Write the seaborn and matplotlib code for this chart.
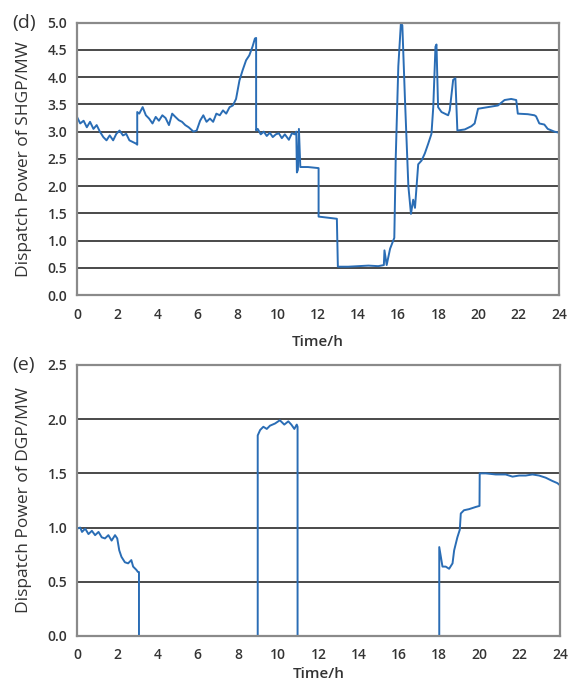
import matplotlib
matplotlib.use("Agg")
import matplotlib.pyplot as plt
import seaborn as sns
import pandas as pd

# ---- data: SHGP dispatch power (panel d) ----
shgp_t = [0.0, 0.16, 0.33, 0.49, 0.65, 0.82, 0.98, 1.14, 1.31, 1.47, 1.63, 1.80, 1.96, 2.12,
          2.29, 2.45, 2.61, 2.78, 2.94, 3.0, 3.0, 3.1, 3.27, 3.43, 3.59, 3.76, 3.92, 4.08, 4.25,
          4.41, 4.58, 4.74, 4.90, 5.07, 5.23, 5.39, 5.56, 5.80, 5.96, 6.13, 6.29, 6.45, 6.62,
          6.78, 6.94, 7.11, 7.27, 7.43, 7.60, 7.76, 7.92, 8.09, 8.25, 8.42, 8.58, 8.74, 8.86,
          8.92, 8.92, 9.0, 9.15, 9.3, 9.45, 9.6, 9.75, 9.9, 10.05, 10.2, 10.35, 10.55, 10.7,
          10.85, 10.92, 10.95, 11.0, 11.05, 11.12, 11.5, 12.03, 12.03, 12.5, 12.94, 12.99,
          13.5, 14.0, 14.51, 15.0, 15.28, 15.31, 15.42, 15.59, 15.75, 15.80, 15.87, 16.0,
          16.13, 16.2, 16.33, 16.5, 16.63, 16.74, 16.83, 16.91, 16.99, 17.16, 17.32, 17.49,
          17.65, 17.74, 17.85, 17.9, 17.98, 18.15, 18.31, 18.48, 18.56, 18.73, 18.84, 18.94,
          19.31, 19.64, 19.8, 19.97, 20.46, 20.96, 21.29, 21.62, 21.87, 21.95, 22.45, 22.78,
          22.86, 23.02, 23.27, 23.44, 23.77, 24.0]
shgp_v = [3.27, 3.15, 3.20, 3.08, 3.18, 3.05, 3.12, 3.00, 2.90, 2.84, 2.93, 2.84, 2.96, 3.02,
          2.93, 2.96, 2.84, 2.81, 2.78, 2.76, 3.36, 3.33, 3.45, 3.30, 3.24, 3.15, 3.27, 3.20,
          3.30, 3.25, 3.12, 3.33, 3.27, 3.21, 3.18, 3.12, 3.08, 3.00, 3.02, 3.20, 3.30, 3.18,
          3.24, 3.18, 3.33, 3.30, 3.39, 3.33, 3.45, 3.48, 3.60, 3.94, 4.13, 4.31, 4.40, 4.56,
          4.71, 4.72, 3.02, 3.05, 2.95, 3.00, 2.92, 2.98, 2.90, 2.95, 2.97, 2.88, 2.95, 2.85,
          2.97, 2.95, 3.00, 2.25, 2.30, 3.05, 2.35, 2.35, 2.33, 1.44, 1.42, 1.40, 0.52,
          0.52, 0.53, 0.54, 0.53, 0.55, 0.82, 0.55, 0.85, 1.00, 1.05, 2.50, 4.20,
          5.00, 4.95, 3.60, 2.00, 1.49, 1.75, 1.60, 2.00, 2.40, 2.47, 2.60, 2.78,
          2.96, 3.45, 4.56, 4.60, 3.45, 3.36, 3.33, 3.30, 3.39, 3.95, 3.98, 3.02,
          3.04, 3.10, 3.15, 3.42, 3.45, 3.48, 3.58, 3.60, 3.58, 3.33, 3.32, 3.30,
          3.28, 3.15, 3.13, 3.05, 3.00, 2.98]

# ---- data: DGP dispatch power (panel e) ----
dgp_t = [0.0, 0.16, 0.25, 0.41, 0.57, 0.74, 0.90, 1.07, 1.23, 1.39, 1.56, 1.72, 1.89, 2.00,
         2.10, 2.21, 2.38, 2.54, 2.70, 2.79, 2.95, 3.03, 3.08, 3.08, 8.98, 8.98, 9.10, 9.26,
         9.43, 9.59, 9.84, 10.08, 10.30, 10.50, 10.65, 10.80, 10.92, 10.96, 10.96, 18.0,
         18.0, 18.16, 18.32, 18.49, 18.66, 18.74, 18.90, 19.02, 19.07, 19.23, 19.48, 19.81,
         20.0, 20.01, 20.31, 20.81, 21.30, 21.64, 21.97, 22.30, 22.63, 22.96, 23.29, 23.62,
         23.87, 24.0]
dgp_v = [0.99, 1.00, 0.96, 0.99, 0.94, 0.97, 0.93, 0.96, 0.91, 0.90, 0.93, 0.88, 0.93, 0.90,
         0.79, 0.73, 0.68, 0.67, 0.70, 0.64, 0.61, 0.59, 0.59, 0.0, 0.0, 1.85, 1.90, 1.93,
         1.91, 1.94, 1.96, 1.99, 1.95, 1.98, 1.95, 1.91, 1.95, 1.93, 0.0, 0.0,
         0.82, 0.64, 0.64, 0.62, 0.67, 0.79, 0.91, 0.98, 1.13, 1.16, 1.17, 1.19,
         1.20, 1.50, 1.50, 1.49, 1.49, 1.47, 1.48, 1.48, 1.49, 1.48, 1.46, 1.43,
         1.41, 1.39]

x_ticks = list(range(0, 25, 2))
y_ticks_d = [0.0, 0.5, 1.0, 1.5, 2.0, 2.5, 3.0, 3.5, 4.0, 4.5, 5.0]
y_ticks_e = [0.0, 0.5, 1.0, 1.5, 2.0, 2.5]

sns.set_theme(style="white")
plt.rcParams['font.family'] = ['Open Sans', 'DejaVu Sans']

line_color = "#2a6db5"
grid_color = "#4a4a4a"
spine_color = "#8a8a8a"
text_color = "#333333"

fig = plt.figure(figsize=(5.69, 6.94), dpi=100)
ax1 = fig.add_axes([0.1353, 0.5749, 0.8471, 0.3924])
ax2 = fig.add_axes([0.1353, 0.0836, 0.8489, 0.3905])

df_d = pd.DataFrame({"t": shgp_t, "v": shgp_v})
df_e = pd.DataFrame({"t": dgp_t, "v": dgp_v})

sns.lineplot(data=df_d, x="t", y="v", ax=ax1, sort=False, estimator=None,
             color=line_color, linewidth=1.4)
sns.lineplot(data=df_e, x="t", y="v", ax=ax2, sort=False, estimator=None,
             color=line_color, linewidth=1.4)

for ax, yt, ymax, ylabel, tag, xpad in [
        (ax1, y_ticks_d, 5.0, "Dispatch Power of SHGP/MW", "(d)", 10),
        (ax2, y_ticks_e, 2.5, "Dispatch Power of DGP/MW", "(e)", 3)]:
    ax.set_xlim(0, 24)
    ax.set_ylim(0, ymax)
    ax.set_xticks(x_ticks)
    ax.set_xticklabels([str(v) for v in x_ticks])
    ax.set_yticks(yt)
    ax.set_yticklabels([f"{v:.1f}" for v in yt])
    ax.yaxis.grid(True, color=grid_color, linewidth=1.4)
    ax.xaxis.grid(False)
    ax.set_axisbelow(True)
    for s in ax.spines.values():
        s.set_color(spine_color)
        s.set_linewidth(1.6)
    ax.tick_params(axis="x", direction="out", length=4, width=1, color=spine_color,
                   labelsize=10, labelcolor=text_color, pad=5)
    ax.tick_params(axis="y", direction="out", length=4, width=1, color=spine_color,
                   labelsize=10, labelcolor=text_color, pad=3)
    for lbl in ax.get_xticklabels() + ax.get_yticklabels():
        lbl.set_fontweight("semibold")
    ax.set_xlabel("Time/h", fontsize=11, fontweight="semibold", color=text_color,
                  labelpad=xpad)
    ax.set_ylabel(ylabel, fontsize=12.5, color=text_color, labelpad=11)
    ax.text(-0.135, 1.0, tag, transform=ax.transAxes, fontsize=14, color=text_color,
            ha="left", va="center")

fig.savefig("out.png", dpi=100)
